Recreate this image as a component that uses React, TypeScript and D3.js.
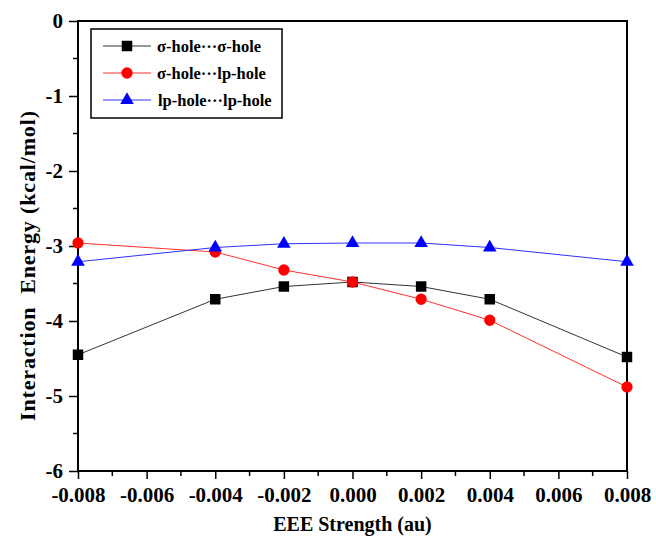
import React, { useEffect, useRef } from "react";
import * as d3 from "d3";

const xValues = [-0.008, -0.004, -0.002, 0, 0.002, 0.004, 0.008];
const sigmaSigma = [-4.45, -3.71, -3.54, -3.48, -3.54, -3.71, -4.48];
const sigmaLp = [-2.96, -3.08, -3.32, -3.48, -3.71, -3.99, -4.88];
const lpLp = [-3.21, -3.02, -2.97, -2.96, -2.96, -3.02, -3.21];
const seriesNames = ["σ-hole···σ-hole", "σ-hole···lp-hole", "lp-hole···lp-hole"];
const xTicks = [-0.008, -0.006, -0.004, -0.002, 0, 0.002, 0.004, 0.006, 0.008];
const yTicks = [0, -1, -2, -3, -4, -5, -6];

const App = () => {
  const svgRef = useRef<SVGSVGElement>(null);
  const width = 656;
  const height = 540;
  const margin = { left: 78, right: 29, top: 21, bottom: 69 };
  const font = "'Liberation Serif', 'Times New Roman', serif";

  useEffect(() => {
    const svg = d3.select(svgRef.current);
    svg.selectAll("*").remove();

    const x = d3
      .scaleLinear()
      .domain([-0.008, 0.008])
      .range([margin.left, width - margin.right]);
    const y = d3
      .scaleLinear()
      .domain([-6, 0])
      .range([height - margin.bottom, margin.top]);

    const x0 = x.range()[0];
    const x1 = x.range()[1];
    const y0 = y.range()[0];
    const y1 = y.range()[1];

    const hyphen = (f: (n: number) => string) => (d: any) => f(d).replace("−", "-");

    // minor ticks
    const xMinor = d3.range(-0.007, 0.008, 0.002);
    const yMinor = d3.range(-5.5, 0, 1);

    const xAxis = d3
      .axisBottom(x)
      .tickValues(xTicks)
      .tickFormat(hyphen(d3.format(".3f")))
      .tickSizeInner(8)
      .tickSizeOuter(0)
      .tickPadding(8);
    const yAxis = d3
      .axisLeft(y)
      .tickValues(yTicks)
      .tickFormat(hyphen(d3.format("d")))
      .tickSizeInner(9)
      .tickSizeOuter(0)
      .tickPadding(6);

    const gx = svg
      .append("g")
      .attr("transform", `translate(0, ${y0})`)
      .call(xAxis);
    gx.select(".domain").remove();
    gx.selectAll("line").attr("stroke", "#000").attr("stroke-width", 1.5);
    gx.selectAll("text")
      .attr("font-family", font)
      .attr("font-weight", "bold")
      .attr("font-size", 21)
      .attr("fill", "#000");

    gx.selectAll(".minor")
      .data(xMinor)
      .join("line")
      .attr("x1", (d) => x(d))
      .attr("x2", (d) => x(d))
      .attr("y1", 0)
      .attr("y2", 5)
      .attr("stroke", "#000")
      .attr("stroke-width", 1.5);

    const gy = svg
      .append("g")
      .attr("transform", `translate(${x0}, 0)`)
      .call(yAxis);
    gy.select(".domain").remove();
    gy.selectAll("line").attr("stroke", "#000").attr("stroke-width", 1.5);
    gy.selectAll("text")
      .attr("font-family", font)
      .attr("font-weight", "bold")
      .attr("font-size", 21)
      .attr("fill", "#000");

    gy.selectAll(".minor")
      .data(yMinor)
      .join("line")
      .attr("x1", 0)
      .attr("x2", -5)
      .attr("y1", (d) => y(d))
      .attr("y2", (d) => y(d))
      .attr("stroke", "#000")
      .attr("stroke-width", 1.5);

    // frame
    svg
      .append("rect")
      .attr("x", x0)
      .attr("y", y1)
      .attr("width", x1 - x0)
      .attr("height", y0 - y1)
      .attr("fill", "none")
      .attr("stroke", "#000")
      .attr("stroke-width", 2);

    const series = [
      { name: seriesNames[0], values: sigmaSigma, color: "#000", line: "#333", symbol: d3.symbolSquare, size: 110 },
      { name: seriesNames[1], values: sigmaLp, color: "#ff0000", line: "#ff3030", symbol: d3.symbolCircle, size: 100 },
      { name: seriesNames[2], values: lpLp, color: "#0000ff", line: "#3030ff", symbol: d3.symbolTriangle, size: 80 },
    ];

    const line = d3
      .line<number>()
      .x((_, i) => x(xValues[i]))
      .y((d) => y(d));

    series.forEach((s) => {
      svg
        .append("path")
        .datum(s.values)
        .attr("d", line)
        .attr("fill", "none")
        .attr("stroke", s.line)
        .attr("stroke-width", 1);
    });

    series.forEach((s) => {
      svg
        .append("g")
        .selectAll("path")
        .data(s.values)
        .join("path")
        .attr("d", d3.symbol().type(s.symbol).size(s.size))
        .attr("transform", (d, i) => `translate(${x(xValues[i])}, ${y(d)})`)
        .attr("fill", s.color);
    });

    // legend
    const legend = svg.append("g").attr("transform", "translate(91, 29)");
    legend
      .append("rect")
      .attr("width", 191)
      .attr("height", 89)
      .attr("fill", "#fff")
      .attr("stroke", "#000")
      .attr("stroke-width", 1.5);
    series.forEach((s, i) => {
      const row = legend.append("g").attr("transform", `translate(0, ${17 + i * 27})`);
      row
        .append("line")
        .attr("x1", 12)
        .attr("x2", 60)
        .attr("stroke", s.line)
        .attr("stroke-width", 1);
      row
        .append("path")
        .attr("d", d3.symbol().type(s.symbol).size(s.size)())
        .attr("transform", "translate(36, 0)")
        .attr("fill", s.color);
      row
        .append("text")
        .attr("x", i === 2 ? 67 : 66)
        .attr("y", 6)
        .attr("font-family", font)
        .attr("font-weight", "bold")
        .attr("font-size", 16.5)
        .attr("fill", "#000")
        .text(s.name);
    });

    // axis titles
    svg
      .append("text")
      .attr("x", (x0 + x1) / 2)
      .attr("y", 531)
      .attr("text-anchor", "middle")
      .attr("font-family", font)
      .attr("font-weight", "bold")
      .attr("font-size", 20)
      .attr("fill", "#000")
      .text("EEE Strength (au)");

    svg
      .append("text")
      .attr("transform", `translate(35, 266) rotate(-90)`)
      .attr("text-anchor", "middle")
      .attr("font-family", font)
      .attr("font-weight", "bold")
      .attr("font-size", 22)
      .attr("fill", "#000")
      .attr("textLength", 310)
      .attr("lengthAdjust", "spacing")
      .style("white-space", "pre")
      .text("Interaction  Energy (kcal/mol)");
  }, []);

  return (
    <svg
      ref={svgRef}
      width={width}
      height={height}
      style={{ position: "absolute", left: 0, top: 0, background: "#fff" }}
    ></svg>
  );
};

export default App;
